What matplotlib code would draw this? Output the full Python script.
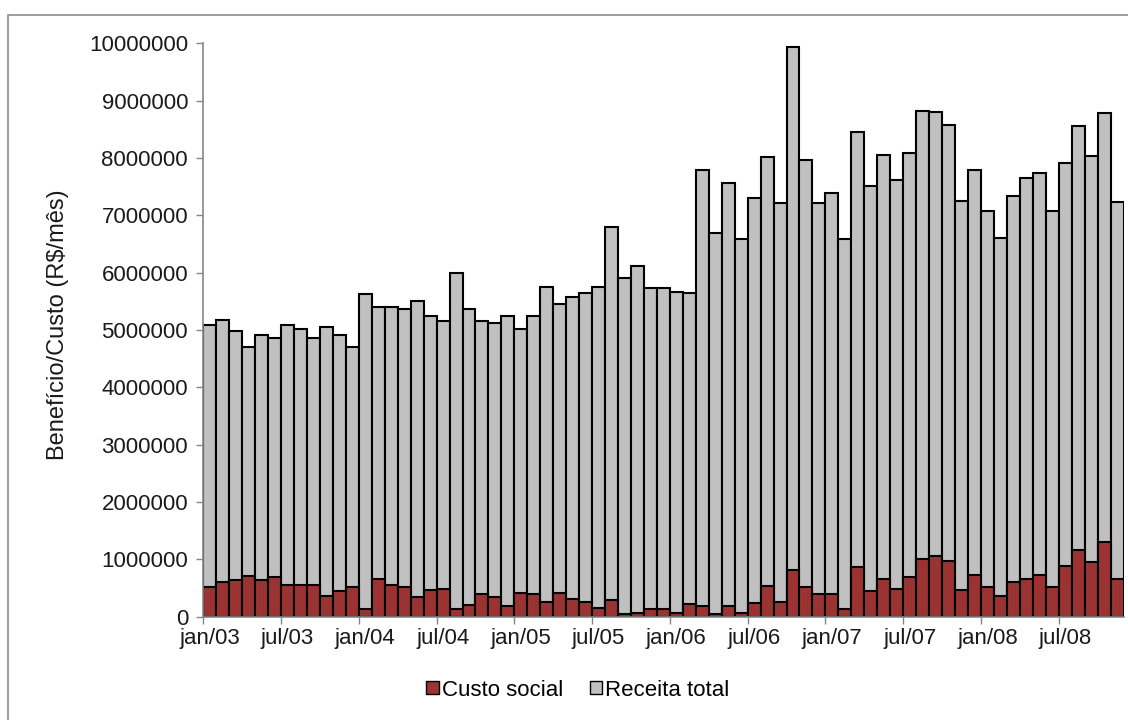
import numpy as np
import matplotlib
matplotlib.use("Agg")
import matplotlib.pyplot as plt
from matplotlib.patches import Patch, Rectangle

plt.rcParams['font.family'] = ['Liberation Sans', 'DejaVu Sans']

# monthly series, jan/03 .. nov/08 (R$/mes)
receita_total = [5080000, 5180000, 4990000, 4710000, 4910000, 4860000, 5080000, 5010000, 4860000, 5050000, 4910000, 4710000,
                 5620000, 5400000, 5400000, 5370000, 5500000, 5250000, 5160000, 5990000, 5370000, 5160000, 5130000, 5250000,
                 5010000, 5250000, 5750000, 5460000, 5580000, 5650000, 5750000, 6800000, 5900000, 6120000, 5730000, 5730000,
                 5670000, 5650000, 7790000, 6690000, 7570000, 6590000, 7300000, 8020000, 7220000, 9930000, 7960000, 7220000,
                 7390000, 6580000, 8460000, 7520000, 8060000, 7620000, 8090000, 8820000, 8800000, 8580000, 7250000, 7790000,
                 7080000, 6610000, 7330000, 7650000, 7740000, 7080000, 7920000, 8550000, 8040000, 8790000, 7240000]
custo_social = [510000, 610000, 640000, 710000, 640000, 690000, 560000, 560000, 560000, 360000, 440000, 510000,
                140000, 660000, 560000, 510000, 340000, 460000, 480000, 140000, 210000, 390000, 340000, 180000,
                410000, 390000, 260000, 410000, 310000, 260000, 160000, 290000, 50000, 70000, 140000, 140000,
                60000, 230000, 190000, 50000, 190000, 60000, 240000, 530000, 260000, 810000, 510000, 390000,
                390000, 140000, 860000, 440000, 660000, 480000, 690000, 1010000, 1050000, 980000, 460000, 730000,
                510000, 360000, 610000, 660000, 730000, 510000, 880000, 1160000, 950000, 1310000, 650000]
tick_labels = ["jan/03", "jul/03", "jan/04", "jul/04", "jan/05", "jul/05",
               "jan/06", "jul/06", "jan/07", "jul/07", "jan/08", "jul/08"]
y_ticks = [0, 1000000, 2000000, 3000000, 4000000, 5000000, 6000000, 7000000, 8000000, 9000000, 10000000]

red = "#9B3333"
grey = "#C0C0C0"
axis_grey = "#868686"

fig = plt.figure(figsize=(11.28, 7.2), dpi=100)
ax = fig.add_axes([203.3 / 1128, 1 - 616.7 / 720, 920.2 / 1128, 573.4 / 720])

# outer chart frame
fig.patches.append(Rectangle((8 / 1128, -0.05), 1.2, 1 - 15 / 720 + 0.05, transform=fig.transFigure,
                             fill=False, edgecolor="#8c8c8c", linewidth=1.2, zorder=0))

x = np.arange(len(receita_total))
ax.bar(x, receita_total, width=1.0, color=grey, edgecolor="black", linewidth=1.5, zorder=2)
ax.bar(x, custo_social, width=1.0, color=red, edgecolor="black", linewidth=1.5, zorder=3)

ax.set_xlim(-0.5, len(x) - 0.5)
ax.set_ylim(0, 10000000)
ax.set_yticks(y_ticks)
ax.set_yticklabels([str(v) for v in y_ticks])

step = 6
ax.set_xticks(np.arange(0, len(x), step) - 0.5)
ax.set_xticklabels([])
ax.set_xticks(np.arange(0, len(x), step), minor=True)
ax.set_xticklabels(tick_labels, minor=True)

ax.tick_params(axis='y', direction='out', length=5, width=1, color=axis_grey, labelsize=16, pad=6, labelcolor="#1a1a1a")
ax.tick_params(axis='x', which='major', direction='out', length=5, width=1, color=axis_grey)
ax.tick_params(axis='x', which='minor', length=0, labelsize=16, pad=8, labelcolor="#1a1a1a")

for side in ["top", "right"]:
    ax.spines[side].set_visible(False)
for side in ["left", "bottom"]:
    ax.spines[side].set_color(axis_grey)
    ax.spines[side].set_linewidth(1.2)
    ax.spines[side].set_zorder(4)

ax.set_ylabel("Benefício/Custo (R$/mês)", fontsize=17, color="#1a1a1a")
ax.yaxis.set_label_coords(-0.146, 0.51)

handles = [Patch(facecolor=red, edgecolor="black", linewidth=1),
           Patch(facecolor=grey, edgecolor="black", linewidth=1)]
fig.legend(handles, ["Custo social", "Receita total"], loc="center", bbox_to_anchor=(578 / 1128, 1 - 690 / 720),
           ncol=2, frameon=False, fontsize=16, handlelength=0.55, handleheight=0.55,
           handletextpad=0.15, columnspacing=1.2)

fig.savefig("out.png", dpi=100)
